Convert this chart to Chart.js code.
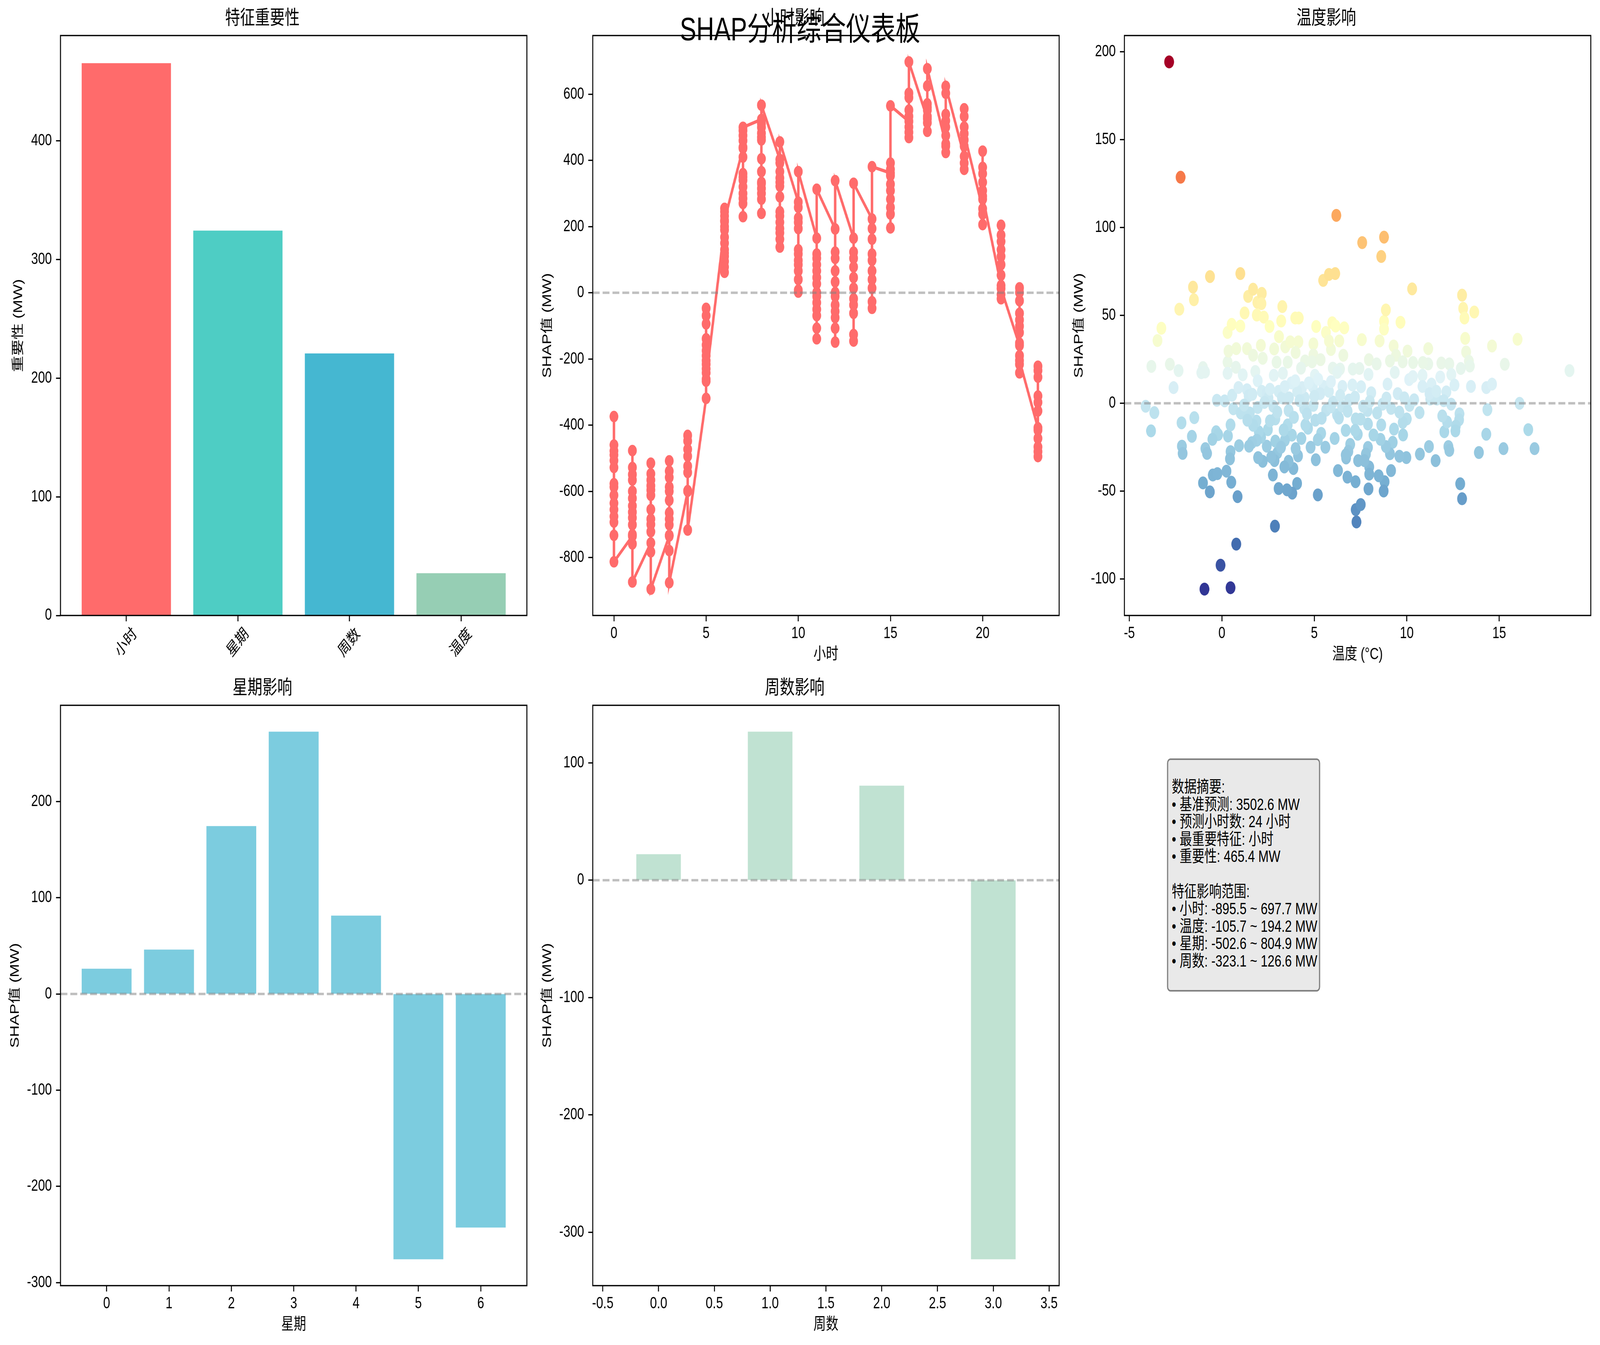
<!DOCTYPE html>
<html><head><meta charset="utf-8">
<script src="https://cdn.jsdelivr.net/npm/chart.js@4.4.1/dist/chart.umd.min.js"></script>
<style>
html,body{margin:0;padding:0;background:#fff;overflow:hidden;}
#wrap{position:relative;overflow:hidden;background:#fff;}
#root{position:absolute;left:0;top:0;width:5369px;height:3444px;transform-origin:0 0;background:#fff;font-family:'Liberation Sans','Noto Sans CJK SC',sans-serif;}
#root canvas{position:absolute;}
#sup{position:absolute;left:0;width:5369px;text-align:center;font-size:83px;line-height:83px;top:33px;color:#000;z-index:5;white-space:nowrap;}
#box{position:absolute;left:3916px;top:1942px;width:514px;height:597px;box-sizing:border-box;background:#e9e9e9;border:4px solid #808080;border-radius:12px;padding:47px 0 0 12px;font-size:41.7px;line-height:44.6px;white-space:pre;color:#000;z-index:5;}
</style></head><body>
<div id="wrap">
<div id="root">
<div id="sup">SHAP分析综合仪表板</div>
<div id="box"></div>
</div>
</div>
<script>
// ---------------- DATA ----------------
const importanceLabels = ['小时', '星期', '周数', '温度'];
const importanceValues = [465.4, 324.3, 220.8, 35.6];
const importanceColors = ['#FF6B6B', '#4ECDC4', '#45B7D1', '#96CEB4'];

// SHAP values per hour (0..23), in plotted order
const hourShap = [
  [-374, -460, -478, -490, -507, -528, -577, -587, -612, -636, -655, -676, -693, -733, -813],
  [-735, -477, -528, -549, -566, -600, -621, -644, -663, -680, -701, -731, -759, -874],
  [-756, -515, -547, -566, -583, -596, -612, -655, -684, -700, -722, -783, -895.5],
  [-735, -508, -539, -558, -587, -600, -627, -665, -684, -701, -733, -779, -876],
  [-600, -431, -448, -473, -494, -524, -543, -598, -717],
  [-319, -47, -69, -94, -139, -158, -175, -190, -205, -216, -230, -242, -267, -261],
  [200, 255, 245, 232, 215, 190, 168, 150, 130, 110, 95, 78, 62, 120, 219],
  [437, 410, 360, 340, 320, 300, 285, 230, 270, 350, 440, 460, 475, 490, 500],
  [524, 500, 482, 462, 405, 366, 334, 315, 300, 283, 240, 330, 470, 510, 567],
  [403, 392, 366, 347, 334, 322, 290, 245, 232, 213, 194, 181, 162, 138, 456],
  [274, 258, 226, 213, 194, 130, 117, 98, 85, 66, 40, 8, 2, 366],
  [165, 117, 104, 85, 66, 46, 27, 1, -11, -30, -50, -69, -107, -139, 313],
  [193, 123, 104, 66, 33, 1, -11, -37, -56, -75, -107, -149, 339],
  [165, 123, 104, 78, 46, 14, -18, -37, -62, -126, -146, 331],
  [223, 194, 162, 117, 98, 66, 40, 14, -27, -47, 381],
  [362, 392, 373, 354, 328, 309, 283, 258, 238, 196, 565],
  [518, 603, 590, 552, 533, 501, 485, 469, 697.7],
  [526, 571, 560, 552, 533, 514, 488, 625, 677],
  [450, 539, 520, 501, 475, 443, 424, 603, 624],
  [412, 556, 533, 501, 462, 443, 392, 373, 481],
  [254, 428, 379, 360, 334, 309, 238, 206, 283, 292],
  [22, 204, 174, 155, 130, 110, 85, 53, -5, -18, 13],
  [-159, 15, 1, -24, -62, -82, -101, -120, -152, -190, -242, -216, -205],
  [-408, -222, -235, -255, -312, -331, -357, -415, -440, -466, -480, -495]
];

// Temperature (°C) and its SHAP value (MW)
const tempValues = [
  -2.85,-2.23,6.19,7.59,8.77,8.62,-0.64,1.00,-1.56,-1.51,-2.30,-3.27,-3.48,-3.81,-2.81,-2.34,-2.61,-4.12,-3.65,-3.83,
  -1.49,-2.18,-2.16,-2.12,-1.62,-1.02,-1.11,-0.91,-1.02,-0.65,-0.89,-0.80,-0.49,-0.24,-0.31,-0.20,-0.51,-0.27,0.15,-0.94,
  -0.07,0.47,0.78,0.25,0.51,0.85,0.33,0.47,0.47,0.44,0.93,0.62,0.56,1.02,0.31,0.53,1.00,0.31,0.36,0.78,
  0.76,1.13,0.31,1.23,1.36,1.36,1.45,1.42,1.69,1.92,2.16,2.14,1.89,2.27,1.69,2.11,2.21,2.58,1.81,1.94,
  2.83,2.81,3.09,3.21,3.27,3.43,3.30,2.96,3.56,3.70,3.97,4.16,4.14,3.99,4.50,4.28,4.95,5.10,4.95,5.03,
  4.88,5.34,5.48,5.79,6.13,5.63,5.97,6.15,6.35,6.62,5.90,5.79,6.57,6.00,6.39,7.08,7.57,7.44,7.95,7.93,
  7.53,8.37,8.53,8.77,8.77,8.87,9.29,9.42,9.09,9.66,10.29,10.04,10.34,9.78,10.13,10.33,10.85,11.16,11.16,10.87,
  11.87,12.30,10.85,11.34,11.81,11.63,11.27,12.99,13.05,13.12,13.65,13.16,13.21,13.36,13.41,12.92,12.41,12.14,12.58,12.40,
  13.47,14.30,14.61,14.61,15.30,15.99,16.10,18.80,14.36,14.30,13.90,15.23,16.57,16.91,12.89,12.99,12.85,12.83,12.65,12.63,
  12.03,12.18,11.92,12.25,12.30,11.56,11.20,10.71,10.69,10.15,10.00,9.78,9.98,9.60,9.31,9.24,9.15,9.09,8.80,8.75,
  8.87,8.62,8.58,8.48,7.93,7.97,7.97,7.90,7.90,7.88,7.79,7.71,7.37,7.35,7.24,7.21,7.23,7.24,7.51,7.28,
  6.94,6.84,6.72,6.70,6.79,6.70,6.28,6.23,6.50,6.52,6.33,6.01,5.64,5.50,5.37,5.19,5.08,5.19,5.06,4.95,
  4.92,5.21,4.66,4.52,4.45,4.48,4.34,4.07,4.07,4.12,3.99,3.87,3.79,3.81,3.52,3.61,3.38,3.56,3.61,3.63,
  3.41,3.34,3.07,3.00,2.85,2.87,2.76,2.89,2.89,2.78,2.67,2.49,2.43,2.21,1.96,2.12,2.00,1.89,1.94,1.87,
  1.62,1.47,1.69,1.51,1.38,1.65,2.16,2.43,2.52,3.07,3.25,3.76,3.97,4.70,5.32,5.79,5.90,6.24,6.88,7.06,
  7.64,8.08,8.69,8.96,9.15,9.51,9.87,9.35,11.23,11.60,
  2.30,2.60,3.00,3.40,3.90,4.20,4.60,5.00,5.40,5.90,6.40,6.80,7.20,7.50,8.00,8.40,8.90,9.60,10.40,4.30,
  5.60,6.10,4.80,3.20,8.20,9.80,2.60,1.20,0.90,12.00
];
const tempShap = [
  194.2,128.6,106.9,91.4,94.5,83.5,72.1,73.8,66.1,58.9,53.5,42.7,35.7,21.0,22.2,18.6,8.9,-1.7,-5.3,-15.7,
  -8.2,-11.1,-24.4,-28.5,-18.8,20.3,17.4,17.8,-45.3,-50.4,-25.8,-28.5,-40.8,-40.0,-16.2,-17.8,-20.5,1.7,1.4,-105.7,
  -92.1,-104.9,-80.1,-38.6,-44.9,-53.1,-18.6,-12.3,-27.5,-31.6,-24.1,-3.1,4.6,-5.5,40.3,44.9,43.9,23.4,29.7,31.1,
  20.5,16.2,17.1,51.4,31.1,7.7,4.3,60.8,64.9,57.4,62.5,56.7,50.2,49.0,27.3,33.0,25.6,43.7,18.1,12.8,
  30.9,15.9,37.9,46.8,55.0,32.1,17.1,23.4,23.4,35.0,48.5,48.5,35.0,28.9,24.1,20.0,33.8,43.7,27.5,15.9,
  23.6,24.8,69.9,73.3,73.8,40.3,45.8,43.9,35.5,42.9,30.6,35.5,27.3,20.0,19.5,19.5,36.2,19.8,24.8,16.4,
  9.4,22.4,35.5,46.6,42.2,53.1,32.6,27.3,24.1,46.1,65.1,29.7,23.2,23.6,13.5,15.2,15.9,31.1,22.4,23.2,
  22.9,22.4,9.6,10.9,15.0,2.4,2.4,61.5,54.0,48.5,51.9,36.9,29.2,23.9,21.2,19.8,16.4,6.5,10.4,-0.5,
  9.6,8.9,10.9,32.6,22.2,36.4,0.0,18.6,-3.6,-17.6,-28.0,-25.8,-15.0,-25.8,-45.8,-54.3,-6.0,-9.4,-13.0,-15.7,
  -16.2,-10.6,-7.2,-24.6,-26.8,-32.6,-24.6,-28.9,-5.3,-1.2,-8.9,-10.9,-30.9,-30.1,-14.7,-22.2,-38.3,-28.7,-44.6,-49.9,
  -24.6,-12.3,-20.5,-41.2,-48.7,-36.2,-40.3,-25.1,-11.8,-4.1,-28.9,-32.6,-32.6,-17.6,-8.9,-15.4,-44.6,-60.5,-57.6,-67.5,
  -23.4,-27.3,-31.1,-29.4,-42.0,-15.4,-38.3,-6.5,-1.7,9.6,-8.4,0.7,-3.9,9.6,-17.1,-20.7,-32.1,-52.1,-9.6,-1.2,
  9.4,13.7,-14.2,-12.3,-2.9,3.1,8.9,6.8,-45.6,-29.9,-25.8,-37.1,-18.1,-51.1,-49.2,-33.0,-36.2,-12.3,-4.1,3.1,
  -21.0,-15.2,-48.5,-28.2,-32.6,-69.9,-40.8,-21.5,-8.9,-1.7,-30.6,-15.0,-24.4,-33.0,-30.9,-19.3,-16.2,-21.0,-2.4,-10.1,
  -22.4,-24.4,-12.5,-5.5,-9.6,5.1,6.8,5.5,3.1,6.8,3.1,11.6,12.8,11.6,5.5,6.8,12.3,17.6,1.9,10.4,
  -1.7,6.0,-0.5,10.9,-2.9,5.5,3.1,17.6,5.5,6.8,
  0.5,8.0,-5.0,9.5,-8.0,1.5,-6.0,4.0,-8.5,-2.0,4.5,-4.5,3.5,-9.0,1.0,-5.5,3.0,-5.0,2.0,-20.0,
  -25.0,-20.0,-25.0,-25.0,-18.0,-18.0,-10.0,-1.0,9.0,1.5
];

const weekdayLabels = ['0', '1', '2', '3', '4', '5', '6'];
const weekdayShap = [26.2, 46.1, 174.5, 272.6, 81.4, -275.8, -242.8];

const weekNumLabels = ['0', '1', '2', '3'];
const weekNumShap = [22.2, 126.6, 80.6, -323.1];

const summaryLines = [
  '数据摘要:',
  '• 基准预测: 3502.6 MW',
  '• 预测小时数: 24 小时',
  '• 最重要特征: 小时',
  '• 重要性: 465.4 MW',
  '',
  '特征影响范围:',
  '• 小时: -895.5 ~ 697.7 MW',
  '• 温度: -105.7 ~ 194.2 MW',
  '• 星期: -502.6 ~ 804.9 MW',
  '• 周数: -323.1 ~ 126.6 MW'
];

// tick values
const impYTicks = [0, 100, 200, 300, 400];
const hourXTicks = [0, 5, 10, 15, 20];
const hourYTicks = [-800, -600, -400, -200, 0, 200, 400, 600];
const tempXTicks = [-5, 0, 5, 10, 15];
const tempYTicks = [-100, -50, 0, 50, 100, 150, 200];
const weekdayYTicks = [-300, -200, -100, 0, 100, 200];
const weekNumXTicks = [-0.5, 0, 0.5, 1, 1.5, 2, 2.5, 3, 3.5];
const weekNumYTicks = [-300, -200, -100, 0, 100];

// ---------------- RENDERING ----------------
// The figure is laid out on a 5369x3444 design surface and fitted to the actual window.
const wrap = document.getElementById('wrap');
const root = document.getElementById('root');
const vw = window.innerWidth || 5369, vh = window.innerHeight || 3444;
const sx = vw / 5369, sy = vh / 3444;
root.style.transform = 'scale(' + sx + ',' + sy + ')';
wrap.style.width = vw + 'px';
wrap.style.height = vh + 'px';
const DPR = Math.max(1, (window.devicePixelRatio || 1) * Math.max(sx, sy));

document.getElementById('box').textContent = summaryLines.join('\n');

const FONT = "'Liberation Sans', 'Noto Sans CJK SC', sans-serif";
const L = 220, T = 83, B = 200;

// RdYlBu_r colormap
const RDYLBU_R = ['#313695','#4575b4','#74add1','#abd9e9','#e0f3f8','#ffffbf','#fee090','#fdae61','#f46d43','#d73027','#a50026']
  .map(h => [parseInt(h.slice(1,3),16), parseInt(h.slice(3,5),16), parseInt(h.slice(5,7),16)]);
function cmap(t) {
  t = Math.max(0, Math.min(1, t));
  const p = t * (RDYLBU_R.length - 1);
  const i = Math.min(Math.floor(p), RDYLBU_R.length - 2);
  const f = p - i;
  const a = RDYLBU_R[i], b = RDYLBU_R[i + 1];
  return `rgb(${Math.round(a[0]+(b[0]-a[0])*f)},${Math.round(a[1]+(b[1]-a[1])*f)},${Math.round(a[2]+(b[2]-a[2])*f)})`;
}

const framePlugin = {
  id: 'frame',
  afterDatasetsDraw(chart, args, opts) {
    const {ctx, chartArea: a} = chart;
    const y = chart.scales.y;
    ctx.save();
    if (opts.zero) {
      const py = y.getPixelForValue(0);
      ctx.strokeStyle = 'rgba(128,128,128,0.5)';
      ctx.lineWidth = 6.25;
      ctx.setLineDash([23.1, 10]);
      ctx.beginPath(); ctx.moveTo(a.left, py); ctx.lineTo(a.right, py); ctx.stroke();
    }
    ctx.setLineDash([]);
    ctx.strokeStyle = '#000';
    ctx.lineWidth = 3.3;
    ctx.strokeRect(a.left, a.top, a.right - a.left, a.bottom - a.top);
    ctx.restore();
  }
};

function axis(isX, min, max, tickVals, fmt, title, titlePad, tickOpts) {
  return {
    type: 'linear', min: min, max: max, offset: false,
    grid: {display: true, drawOnChartArea: false, drawTicks: true, tickLength: 15, tickWidth: 3.3, tickColor: '#000', offset: false},
    border: {display: false},
    ticks: Object.assign({color: '#000', font: {family: FONT, size: 41.7}, padding: isX ? 6 : 14,
      autoSkip: false, maxRotation: 0, minRotation: 0, callback: fmt}, tickOpts || {}),
    afterBuildTicks: s => { s.ticks = tickVals.map(v => ({value: v})); },
    afterFit: s => { if (isX) s.height = 190; else s.width = 210; },
    title: title ? {display: true, text: title, color: '#000', font: {family: FONT, size: 41.7, lineHeight: 1.2},
      padding: isX ? {top: 0, bottom: titlePad} : {top: titlePad, bottom: 0}} : {display: false}
  };
}

function makeChart(rect, titleText, type, datasets, xAxis, yAxis, zero) {
  const c = document.createElement('canvas');
  const w = (rect[2] - rect[0]) + 2 * L;
  const h = (rect[3] - rect[1]) + T + B;
  c.style.left = (rect[0] - L) + 'px';
  c.style.top = (rect[1] - T) + 'px';
  c.style.width = w + 'px'; c.style.height = h + 'px';
  c.width = w; c.height = h;
  root.appendChild(c);
  return new Chart(c, {
    type: type,
    data: {datasets: datasets},
    options: {
      responsive: false, animation: false, devicePixelRatio: DPR,
      layout: {padding: {left: 10, right: L, top: 0, bottom: 10}},
      plugins: {
        legend: {display: false}, tooltip: {enabled: false},
        title: {display: true, text: titleText, color: '#000',
          font: {family: FONT, size: 50, weight: 'normal', lineHeight: 1.2}, padding: {top: 10, bottom: 13}},
        frame: {zero: zero}
      },
      scales: {x: xAxis, y: yAxis}
    },
    plugins: [framePlugin]
  });
}

const num = v => String(v);
const YPAD_A = 220 - 140 - 10 - 25.2;  // y-label offset for 3-digit ticks
const YPAD_B = 220 - 151 - 10 - 25.2;  // y-label offset for 4-char ticks
const XPAD = 190 - 100 - 25.2;

// Panel rectangles [left, top, right, bottom]
const R1 = [203, 91, 1768, 1576];
const R2 = [1989, 91, 3554, 1576];
const R3 = [3773, 91, 5338, 1576];
const R4 = [203, 1806, 1768, 3292];
const R5 = [1989, 1806, 3554, 3292];

// 1. Feature importance
makeChart(R1, '特征重要性', 'bar', [{
    data: importanceValues.map((v, i) => ({x: i, y: v})),
    backgroundColor: importanceColors, borderWidth: 0, barPercentage: 0.8, categoryPercentage: 1.0
  }],
  axis(true, -0.59, 3.59, [0, 1, 2, 3], v => importanceLabels[v], null, 0,
    {minRotation: 45, maxRotation: 45, labelOffset: 29.7, padding: 8}),
  axis(false, 0, 488.67, impYTicks, num, '重要性 (MW)', YPAD_A), false);

// 2. Hour influence
const hourPoints = [];
hourShap.forEach((vals, h) => vals.forEach(v => hourPoints.push({x: h, y: v})));
makeChart(R2, '小时影响', 'line', [{
    data: hourPoints, borderColor: '#FF6B6B', borderWidth: 8.3, tension: 0,
    pointRadius: 14.8, pointBackgroundColor: '#FF6B6B', pointBorderWidth: 0, fill: false
  }],
  axis(true, -1.15, 24.15, hourXTicks, num, '小时', XPAD),
  axis(false, -975.2, 777.4, hourYTicks, num, 'SHAP值 (MW)', YPAD_B), true);

// 3. Temperature influence
const vmin = Math.min(...tempShap), vmax = Math.max(...tempShap);
makeChart(R3, '温度影响', 'scatter', [{
    data: tempValues.map((t, i) => ({x: t, y: tempShap[i]})),
    pointBackgroundColor: tempShap.map(v => cmap((v - vmin) / (vmax - vmin))),
    pointRadius: 16.5, pointBorderWidth: 0
  }],
  axis(true, -5.27, 19.95, tempXTicks, num, '温度 (°C)', XPAD),
  axis(false, -120.7, 209.2, tempYTicks, num, 'SHAP值 (MW)', YPAD_B), true);

// 4. Weekday influence
makeChart(R4, '星期影响', 'bar', [{
    data: weekdayShap.map((v, i) => ({x: i, y: v})),
    backgroundColor: 'rgba(69,183,209,0.7)', borderWidth: 0, barPercentage: 0.8, categoryPercentage: 1.0
  }],
  axis(true, -0.74, 6.74, [0, 1, 2, 3, 4, 5, 6], v => weekdayLabels[v], '星期', XPAD),
  axis(false, -303.2, 300.0, weekdayYTicks, num, 'SHAP值 (MW)', YPAD_B), true);

// 5. Week number influence
makeChart(R5, '周数影响', 'bar', [{
    data: weekNumShap.map((v, i) => ({x: i, y: v})),
    backgroundColor: 'rgba(150,206,180,0.6)', borderWidth: 0, barPercentage: 0.8, categoryPercentage: 1.0
  }],
  axis(true, -0.59, 3.59, weekNumXTicks, v => v.toFixed(1), '周数', XPAD),
  axis(false, -345.6, 149.1, weekNumYTicks, num, 'SHAP值 (MW)', YPAD_B), true);
</script>
</body></html>
